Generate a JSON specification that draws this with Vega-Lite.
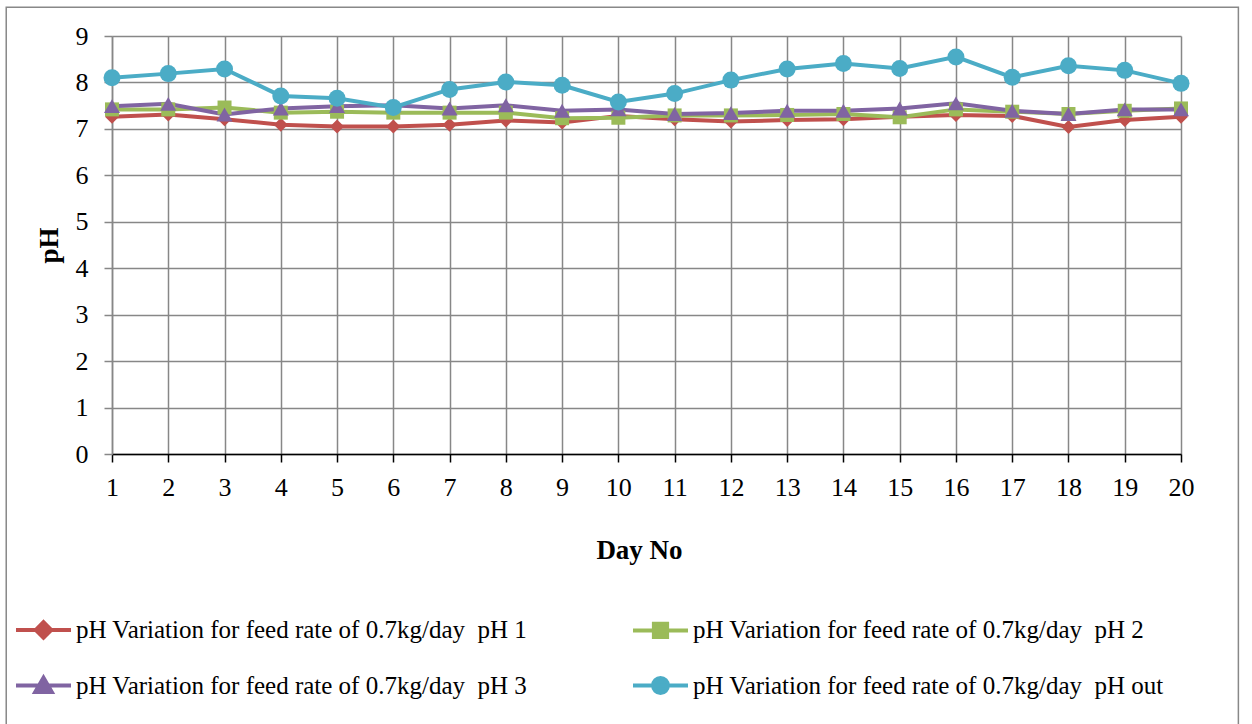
{
  "$schema": "https://vega.github.io/schema/vega-lite/v6.json",
  "width": 1069,
  "height": 418,
  "autosize": {"type": "none"},
  "padding": {"left": 112, "top": 36, "right": 71, "bottom": 270},
  "background": "white",
  "config": {
    "view": {"stroke": null},
    "font": "Liberation Serif",
    "axis": {"labelFont": "Liberation Serif", "titleFont": "Liberation Serif"},
    "legend": {"labelFont": "Liberation Serif", "titleFont": "Liberation Serif"}
  },
  "datasets": {
    "ph": [
      {"day": 1, "series": "pH 1", "ph": 7.26}, {"day": 2, "series": "pH 1", "ph": 7.31}, {"day": 3, "series": "pH 1", "ph": 7.21}, {"day": 4, "series": "pH 1", "ph": 7.09}, {"day": 5, "series": "pH 1", "ph": 7.05},
      {"day": 6, "series": "pH 1", "ph": 7.05}, {"day": 7, "series": "pH 1", "ph": 7.09}, {"day": 8, "series": "pH 1", "ph": 7.18}, {"day": 9, "series": "pH 1", "ph": 7.14}, {"day": 10, "series": "pH 1", "ph": 7.28},
      {"day": 11, "series": "pH 1", "ph": 7.21}, {"day": 12, "series": "pH 1", "ph": 7.16}, {"day": 13, "series": "pH 1", "ph": 7.19}, {"day": 14, "series": "pH 1", "ph": 7.21}, {"day": 15, "series": "pH 1", "ph": 7.26},
      {"day": 16, "series": "pH 1", "ph": 7.30}, {"day": 17, "series": "pH 1", "ph": 7.28}, {"day": 18, "series": "pH 1", "ph": 7.04}, {"day": 19, "series": "pH 1", "ph": 7.19}, {"day": 20, "series": "pH 1", "ph": 7.26},
      {"day": 1, "series": "pH 2", "ph": 7.42}, {"day": 2, "series": "pH 2", "ph": 7.42}, {"day": 3, "series": "pH 2", "ph": 7.46}, {"day": 4, "series": "pH 2", "ph": 7.35}, {"day": 5, "series": "pH 2", "ph": 7.37},
      {"day": 6, "series": "pH 2", "ph": 7.35}, {"day": 7, "series": "pH 2", "ph": 7.35}, {"day": 8, "series": "pH 2", "ph": 7.35}, {"day": 9, "series": "pH 2", "ph": 7.23}, {"day": 10, "series": "pH 2", "ph": 7.24},
      {"day": 11, "series": "pH 2", "ph": 7.29}, {"day": 12, "series": "pH 2", "ph": 7.29}, {"day": 13, "series": "pH 2", "ph": 7.30}, {"day": 14, "series": "pH 2", "ph": 7.32}, {"day": 15, "series": "pH 2", "ph": 7.25},
      {"day": 16, "series": "pH 2", "ph": 7.42}, {"day": 17, "series": "pH 2", "ph": 7.37}, {"day": 18, "series": "pH 2", "ph": 7.32}, {"day": 19, "series": "pH 2", "ph": 7.39}, {"day": 20, "series": "pH 2", "ph": 7.44},
      {"day": 1, "series": "pH 3", "ph": 7.49}, {"day": 2, "series": "pH 3", "ph": 7.54}, {"day": 3, "series": "pH 3", "ph": 7.31}, {"day": 4, "series": "pH 3", "ph": 7.44}, {"day": 5, "series": "pH 3", "ph": 7.49},
      {"day": 6, "series": "pH 3", "ph": 7.51}, {"day": 7, "series": "pH 3", "ph": 7.44}, {"day": 8, "series": "pH 3", "ph": 7.51}, {"day": 9, "series": "pH 3", "ph": 7.39}, {"day": 10, "series": "pH 3", "ph": 7.42},
      {"day": 11, "series": "pH 3", "ph": 7.32}, {"day": 12, "series": "pH 3", "ph": 7.34}, {"day": 13, "series": "pH 3", "ph": 7.39}, {"day": 14, "series": "pH 3", "ph": 7.39}, {"day": 15, "series": "pH 3", "ph": 7.44},
      {"day": 16, "series": "pH 3", "ph": 7.55}, {"day": 17, "series": "pH 3", "ph": 7.39}, {"day": 18, "series": "pH 3", "ph": 7.32}, {"day": 19, "series": "pH 3", "ph": 7.42}, {"day": 20, "series": "pH 3", "ph": 7.42},
      {"day": 1, "series": "pH out", "ph": 8.10}, {"day": 2, "series": "pH out", "ph": 8.19}, {"day": 3, "series": "pH out", "ph": 8.29}, {"day": 4, "series": "pH out", "ph": 7.71}, {"day": 5, "series": "pH out", "ph": 7.66},
      {"day": 6, "series": "pH out", "ph": 7.46}, {"day": 7, "series": "pH out", "ph": 7.85}, {"day": 8, "series": "pH out", "ph": 8.01}, {"day": 9, "series": "pH out", "ph": 7.94}, {"day": 10, "series": "pH out", "ph": 7.58},
      {"day": 11, "series": "pH out", "ph": 7.76}, {"day": 12, "series": "pH out", "ph": 8.05}, {"day": 13, "series": "pH out", "ph": 8.29}, {"day": 14, "series": "pH out", "ph": 8.41}, {"day": 15, "series": "pH out", "ph": 8.30},
      {"day": 16, "series": "pH out", "ph": 8.55}, {"day": 17, "series": "pH out", "ph": 8.11}, {"day": 18, "series": "pH out", "ph": 8.36}, {"day": 19, "series": "pH out", "ph": 8.26}, {"day": 20, "series": "pH out", "ph": 7.98}
    ],
    "frame": [{"x0": -0.88, "x1": 21.02, "y0": 9.618, "y1": -6.2}]
  },
  "layer": [
    {
      "data": {"name": "ph"},
      "mark": {"type": "line", "strokeWidth": 4},
      "encoding": {
        "x": {
          "field": "day", "type": "quantitative",
          "scale": {"domain": [1, 20], "nice": false, "zero": false},
          "axis": {
            "values": [1,2,3,4,5,6,7,8,9,10,11,12,13,14,15,16,17,18,19,20],
            "format": "d", "labelOverlap": false, "labelFlush": false,
            "title": "Day No", "titleFontSize": 27, "titleFontWeight": "bold", "titleColor": "black",
            "titleBaseline": "alphabetic", "titleY": 104, "titleX": 527,
            "labelFontSize": 26, "labelColor": "black", "labelPadding": 12,
            "grid": true, "gridColor": "#878787", "gridWidth": 1.5,
            "domainColor": "black", "domainWidth": 1.5,
            "tickColor": "black", "tickWidth": 1.5, "tickSize": 8
          }
        },
        "y": {
          "field": "ph", "type": "quantitative",
          "scale": {"domain": [0, 9], "nice": false},
          "axis": {
            "values": [0,1,2,3,4,5,6,7,8,9],
            "format": "d", "labelOverlap": false, "labelFlush": false,
            "title": "pH", "titleFontSize": 27, "titleFontWeight": "bold", "titleColor": "black",
            "titleBaseline": "alphabetic", "titleX": -55,
            "labelFontSize": 26, "labelColor": "black", "labelPadding": 16,
            "grid": true, "gridColor": "#878787", "gridWidth": 1.5,
            "domainColor": "#878787", "domainWidth": 1.5,
            "tickColor": "#878787", "tickWidth": 1.5, "tickSize": 8
          }
        },
        "color": {
          "field": "series", "type": "nominal",
          "scale": {"domain": ["pH 1", "pH 2", "pH 3", "pH out"], "range": ["#C0504D", "#9BBB59", "#8064A2", "#4BACC6"]},
          "legend": {
            "orient": "none", "legendX": -98, "legendY": 564, "direction": "horizontal", "columns": 2,
            "title": null, "padding": 0, "gridAlign": "all", "columnPadding": 78, "rowPadding": 10,
            "symbolSize": 3025, "symbolOffset": 0, "labelOffset": 3,
            "labelFont": "Liberation Serif", "labelFontSize": 25, "labelColor": "black", "labelLimit": 800,
            "labelExpr": "'pH Variation for feed rate of 0.7kg/day\u00a0 ' + datum.label",
            "encode": {
              "labels": {
                "update": {
                  "font": {"value": "Liberation Serif"},
                  "fontSize": {"value": 25}
                }
              },
              "symbols": {
                "update": {
                  "shape": {"signal": "datum.value === 'pH 1' ? 'M-1,0H1M0,-0.28L0.28,0L0,0.28L-0.28,0Z' : datum.value === 'pH 2' ? 'M-1,0H1M-0.24,-0.24H0.24V0.24H-0.24Z' : datum.value === 'pH 3' ? 'M-1,0H1M0,-0.28L0.3,0.24H-0.3Z' : 'M-1,0H1M-0.27,0A0.27,0.27 0 1,0 0.27,0A0.27,0.27 0 1,0 -0.27,0Z'"},
                  "fill": {"scale": "color", "field": "value"},
                  "stroke": {"scale": "color", "field": "value"},
                  "strokeWidth": {"value": 4},
                  "size": {"value": 3025},
                  "opacity": {"value": 1}
                }
              }
            }
          }
        },
        "order": {"field": "day"}
      }
    },
    {
      "data": {"name": "ph"},
      "transform": [{"filter": "datum.series === 'pH 1'"}],
      "mark": {"type": "point", "filled": true, "opacity": 1, "shape": "diamond", "size": 196, "color": "#C0504D"},
      "encoding": {
        "x": {"field": "day", "type": "quantitative"},
        "y": {"field": "ph", "type": "quantitative"}
      }
    },
    {
      "data": {"name": "ph"},
      "transform": [{"filter": "datum.series === 'pH 2'"}],
      "mark": {"type": "point", "filled": true, "opacity": 1, "shape": "square", "size": 196, "color": "#9BBB59"},
      "encoding": {
        "x": {"field": "day", "type": "quantitative"},
        "y": {"field": "ph", "type": "quantitative"}
      }
    },
    {
      "data": {"name": "ph"},
      "transform": [{"filter": "datum.series === 'pH 3'"}],
      "mark": {"type": "point", "filled": true, "opacity": 1, "shape": "triangle-up", "size": 256, "color": "#8064A2"},
      "encoding": {
        "x": {"field": "day", "type": "quantitative"},
        "y": {"field": "ph", "type": "quantitative"}
      }
    },
    {
      "data": {"name": "ph"},
      "transform": [{"filter": "datum.series === 'pH out'"}],
      "mark": {"type": "point", "filled": true, "opacity": 1, "shape": "circle", "size": 289, "color": "#4BACC6"},
      "encoding": {
        "x": {"field": "day", "type": "quantitative"},
        "y": {"field": "ph", "type": "quantitative"}
      }
    },
    {
      "data": {"name": "frame"},
      "mark": {"type": "rect", "fill": null, "stroke": "#888888", "strokeWidth": 1.5, "clip": false},
      "encoding": {
        "x": {"field": "x0", "type": "quantitative"},
        "x2": {"field": "x1"},
        "y": {"field": "y0", "type": "quantitative"},
        "y2": {"field": "y1"}
      }
    }
  ]
}
